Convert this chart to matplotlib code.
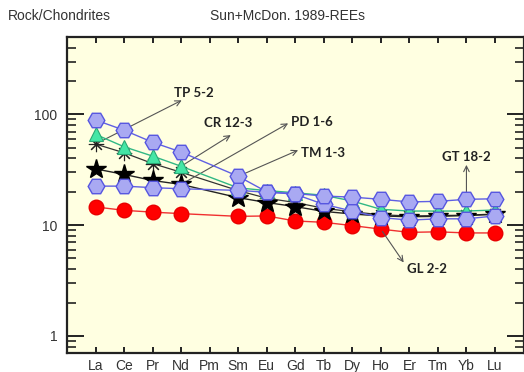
import numpy as np
import matplotlib
matplotlib.use('Agg')
import matplotlib.pyplot as plt
from matplotlib.ticker import LogLocator, NullFormatter, FixedLocator

# REE list (chondrite-normalised, Sun & McDonough 1989), Pm not analysed
elements = ['La', 'Ce', 'Pr', 'Nd', 'Pm', 'Sm', 'Eu', 'Gd', 'Tb', 'Dy', 'Ho', 'Er', 'Tm', 'Yb', 'Lu']

gl_2_2 = [14.6, 13.6, 13.1, 12.7, None, 12.0, 12.1, 10.9, 10.6, 9.9, 9.2, 8.6, 8.7, 8.5, 8.5]
tp_5_2 = [54, 45, 36, 30, None, 20.5, 17.5, 16.0, 14.2, 13.2, 12.4, 12.1, 12.2, 12.3, 12.6]
pd_1_6 = [32.2, 28.7, 25.3, 23.3, None, 17.7, 16.0, 14.7, 13.3, 12.6, 12.1, 11.9, 12.0, 12.2, 12.5]
cr_12_3 = [66, 51, 42, 34, None, 21.7, 20.5, 19.6, 18.6, 16.5, 13.9, 13.4, 13.4, 13.4, 13.7]
tm_1_3 = [89, 72, 56, 45.7, None, 27.6, 20.0, 19.0, 15.4, 13.4, 11.7, 11.1, 11.4, 11.4, 12.1]
gt_18_2 = [22.5, 22.5, 21.8, 21.3, None, 20.6, 19.8, 19.3, 18.3, 17.9, 17.1, 16.2, 16.4, 17.1, 17.3]

xpos = np.arange(1, len(elements) + 1)


def series(vals):
    v = np.array([np.nan if a is None else a for a in vals], dtype=float)
    ok = np.isfinite(v)
    return xpos[ok], v[ok]


fig = plt.figure(figsize=(5.24, 3.72), dpi=100)
ax = fig.add_axes([67 / 524, 1 - 353 / 372, (523.5 - 67) / 524, (353 - 37) / 372])
ax.set_facecolor('#ffffe1')

blue_line = '#5f5fe3'
hex_face = '#a9a9f2'
hex_edge = '#5656e0'

x, y = series(gl_2_2)
ax.plot(x, y, color='#f03030', lw=1, marker='o', ms=10.5,
        mfc='#ff0000', mec='#e80000', zorder=2)
x, y = series(tp_5_2)
ax.plot(x, y, color='#333333', lw=0.9, marker=(8, 2, 0), ms=11,
        mec='#222222', mew=0.8, zorder=3)
x, y = series(pd_1_6)
ax.plot(x, y, color='#222222', lw=1, marker='*', ms=15,
        mfc='black', mec='black', zorder=4)
x, y = series(cr_12_3)
ax.plot(x, y, color='#30b884', lw=1, marker='^', ms=10.5,
        mfc='#44e6a6', mec='#2aa874', mew=0.8, zorder=5)
x, y = series(tm_1_3)
ax.plot(x, y, color=blue_line, lw=1, marker='H', ms=12,
        mfc=hex_face, mec=hex_edge, mew=1, zorder=6)
x, y = series(gt_18_2)
ax.plot(x, y, color=blue_line, lw=1, marker='H', ms=12,
        mfc=hex_face, mec=hex_edge, mew=1, zorder=6)

ax.set_yscale('log')
ax.set_ylim(0.7, 500)
ax.set_xlim(0, 16)

ax.xaxis.set_major_locator(FixedLocator(xpos))
ax.set_xticklabels(elements)
ax.yaxis.set_minor_locator(LogLocator(base=10, subs=np.arange(2, 10)))
ax.yaxis.set_minor_formatter(NullFormatter())
ax.set_yticks([1, 10, 100])
ax.set_yticklabels(['1', '10', '100'])

for s in ax.spines.values():
    s.set_linewidth(1.6)
    s.set_color('#222222')

ax.tick_params(axis='x', which='both', direction='in', top=True, bottom=True,
               length=4.5, width=1.4, labelsize=10, pad=4, color='#222222')
ax.tick_params(axis='y', which='major', direction='in', left=True, right=True,
               length=12, width=1.4, labelsize=10, pad=7, color='#222222')
ax.tick_params(axis='y', which='minor', direction='in', left=True, right=True,
               length=6.5, width=1.2, color='#222222')
for lab in ax.get_xticklabels() + ax.get_yticklabels():
    lab.set_fontfamily('Liberation Sans')
    lab.set_color('#333333')

fig.text(8 / 524, 1 - 16 / 372, 'Rock/Chondrites', fontsize=10,
         family='Liberation Sans', color='#333333', va='center', ha='left')
fig.text(288 / 524, 1 - 16 / 372, 'Sun+McDon. 1989-REEs', fontsize=10,
         family='Liberation Sans', color='#333333', va='center', ha='center')

# sample labels with arrows pointing from a data point to the label
arrow = dict(arrowstyle='->', color='#555555', lw=0.8, shrinkA=2, shrinkB=0)
lab_font = dict(family='Lato', weight='bold', fontsize=9.5, color='#222222')

ax.annotate('', xy=(4.02, 134), xytext=(1, tp_5_2[0]), arrowprops=arrow)
ax.text(3.74, 155, 'TP 5-2', va='center', ha='left', **lab_font)

ax.annotate('', xy=(5.74, 65), xytext=(4, cr_12_3[3]), arrowprops=arrow)
ax.text(4.79, 84, 'CR 12-3', va='center', ha='left', **lab_font)

ax.annotate('', xy=(7.75, 83), xytext=(4, pd_1_6[3]), arrowprops=arrow)
ax.text(7.84, 85, 'PD 1-6', va='center', ha='left', **lab_font)

ax.annotate('', xy=(8.1, 47.5), xytext=(6, tm_1_3[5]), arrowprops=arrow)
ax.text(8.19, 45, 'TM 1-3', va='center', ha='left', **lab_font)

ax.annotate('', xy=(14, 35), xytext=(14, gt_18_2[13]), arrowprops=arrow)
ax.text(14, 41, 'GT 18-2', va='center', ha='center', **lab_font)

ax.annotate('', xy=(11.8, 4.6), xytext=(11, gl_2_2[10]), arrowprops=arrow)
ax.text(11.9, 4.05, 'GL 2-2', va='center', ha='left', **lab_font)

fig.savefig('out.png', dpi=100)
